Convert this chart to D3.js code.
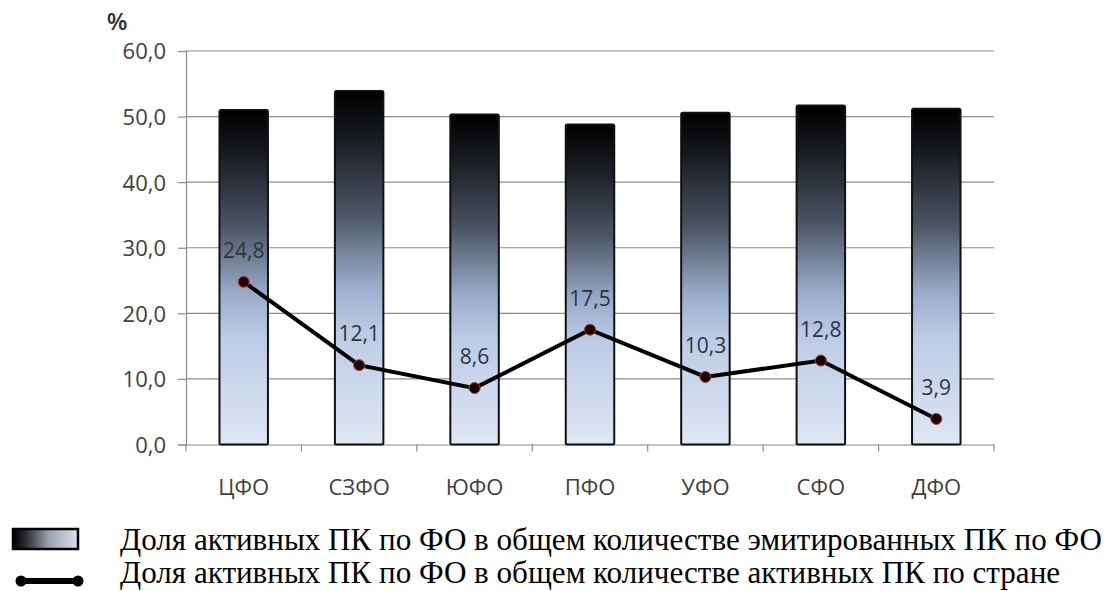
<!DOCTYPE html>
<html><head><meta charset="utf-8">
<script src="https://cdn.jsdelivr.net/npm/d3@7"></script>
<style>body{margin:0;background:#fff}
.lg{font-family:"Liberation Serif","Times New Roman",Tinos,"DejaVu Serif","Noto Serif",FreeSerif,serif;}</style></head>
<body><svg id="c" width="1111" height="591"></svg>
<script>
const categories = ["ЦФО","СЗФО","ЮФО","ПФО","УФО","СФО","ДФО"];
const barValues = [51.0, 53.9, 50.3, 48.8, 50.6, 51.7, 51.2];
const lineValues = [24.8, 12.1, 8.6, 17.5, 10.3, 12.8, 3.9];
const yTicks = [0,10,20,30,40,50,60];
const legendLabels = [
  "Доля активных ПК по ФО в общем количестве эмитированных ПК по ФО",
  "Доля активных ПК по ФО в общем количестве активных ПК по стране"
];
const fmt = v => v.toFixed(1).replace(".", ",");

const svg = d3.select("#c");
const pL = 186, pR = 994, pT = 51, pB = 444.5;
const x = d3.scaleBand().domain(categories).range([pL, pR]).paddingInner(0.58).paddingOuter(0.29);
const xb = d3.scaleBand().domain(categories).range([pL, pR]);
const y = d3.scaleLinear().domain([0, 60]).range([pB, pT]);

const defs = svg.append("defs");
const g1 = defs.append("linearGradient").attr("id","bg").attr("x1",0).attr("y1",0).attr("x2",0).attr("y2",1);
[[0,"#000000"],[0.12,"#15181d"],[0.35,"#4d5666"],[0.55,"#9aaccb"],[0.68,"#bccbe6"],[1,"#dfe6f3"]]
  .forEach(([o,c]) => g1.append("stop").attr("offset",o).attr("stop-color",c));
const g2 = defs.append("linearGradient").attr("id","lg").attr("x1",0).attr("y1",0).attr("x2",1).attr("y2",0);
[[0,"#000000"],[0.2,"#2a2d33"],[0.55,"#9aa2b0"],[1,"#dbe3ee"]]
  .forEach(([o,c]) => g2.append("stop").attr("offset",o).attr("stop-color",c));

// gridlines
svg.append("g").selectAll("line").data(yTicks.filter(d=>d>0)).join("line")
  .attr("x1", pL).attr("x2", pR).attr("y1", d=>y(d)).attr("y2", d=>y(d))
  .attr("stroke","#8c8c8c").attr("stroke-width",1.2);

// y axis
const ya = svg.append("g").attr("transform",`translate(${pL},0)`)
  .call(d3.axisLeft(y).tickValues(yTicks).tickSize(8).tickFormat(fmt));
ya.select(".domain").attr("stroke","#8c8c8c").attr("stroke-width",1.2);
ya.selectAll(".tick line").attr("stroke","#8c8c8c").attr("stroke-width",1.2);
ya.selectAll("text").attr("font-family","Open Sans").attr("font-size",22).attr("fill","#404040").attr("x",-20).attr("dy","0.36em");

// x axis
const xa = svg.append("g").attr("transform",`translate(0,${pB})`)
  .call(d3.axisBottom(xb).tickSize(0).tickFormat(d=>d));
xa.select(".domain").attr("stroke","#8c8c8c").attr("stroke-width",1.2);
xa.selectAll("text").attr("font-family","Open Sans").attr("font-size",22).attr("fill","#404040").attr("y",50).attr("dy",0);
const bounds = categories.map(c=>xb(c)).concat([pR]);
svg.append("g").selectAll("line").data(bounds).join("line")
  .attr("x1",d=>d).attr("x2",d=>d).attr("y1",pB).attr("y2",pB+7)
  .attr("stroke","#8c8c8c").attr("stroke-width",1.2);

// bars
svg.append("g").selectAll("rect").data(categories).join("rect")
  .attr("x", d=>x(d)).attr("width", x.bandwidth())
  .attr("y", (d,i)=>y(barValues[i])).attr("height", (d,i)=>y(0)-y(barValues[i]))
  .attr("fill","url(#bg)").attr("stroke","#111").attr("stroke-width",2).attr("rx",1.5);

// line
const cx = d => xb(d) + xb.bandwidth()/2;
svg.append("path").datum(categories)
  .attr("d", d3.line().x(d=>cx(d)).y((d,i)=>y(lineValues[i])))
  .attr("fill","none").attr("stroke","#000").attr("stroke-width",4);
svg.append("g").selectAll("circle").data(categories).join("circle")
  .attr("cx", cx).attr("cy",(d,i)=>y(lineValues[i])).attr("r",5.5)
  .attr("fill","#1a0205").attr("stroke","#b03a3a").attr("stroke-width",1);
svg.append("g").selectAll("text").data(categories).join("text")
  .attr("x", cx).attr("y",(d,i)=>y(lineValues[i])-24).attr("text-anchor","middle")
  .attr("font-family","Open Sans").attr("font-size",21).attr("fill","#2e3440")
  .text((d,i)=>fmt(lineValues[i]));

// % label
svg.append("text").attr("x",117).attr("y",30).attr("text-anchor","middle")
  .attr("font-family","Open Sans").attr("font-size",24).attr("font-weight",600).attr("fill","#333").text("%");

// legend
svg.append("rect").attr("x",13).attr("y",529).attr("width",65).attr("height",20)
  .attr("fill","url(#lg)").attr("stroke","#000").attr("stroke-width",2.5);
svg.append("line").attr("x1",20).attr("x2",79).attr("y1",581).attr("y2",581).attr("stroke","#000").attr("stroke-width",6);
svg.append("circle").attr("cx",21).attr("cy",581).attr("r",5.5).attr("fill","#000");
svg.append("circle").attr("cx",78).attr("cy",581).attr("r",5.5).attr("fill","#000");
const lt = svg.selectAll("text.lg").data(legendLabels).join("text").attr("class","lg")
  .attr("x",120).attr("y",(d,i)=>550+i*33)
  .attr("font-size",29).attr("fill","#000").text(d=>d);
// fit first line to the reference's width
const w0 = lt.node().getComputedTextLength();
const fs = Math.min(32, 29 * 982 / w0);
lt.attr("font-size", fs);
</script></body></html>
